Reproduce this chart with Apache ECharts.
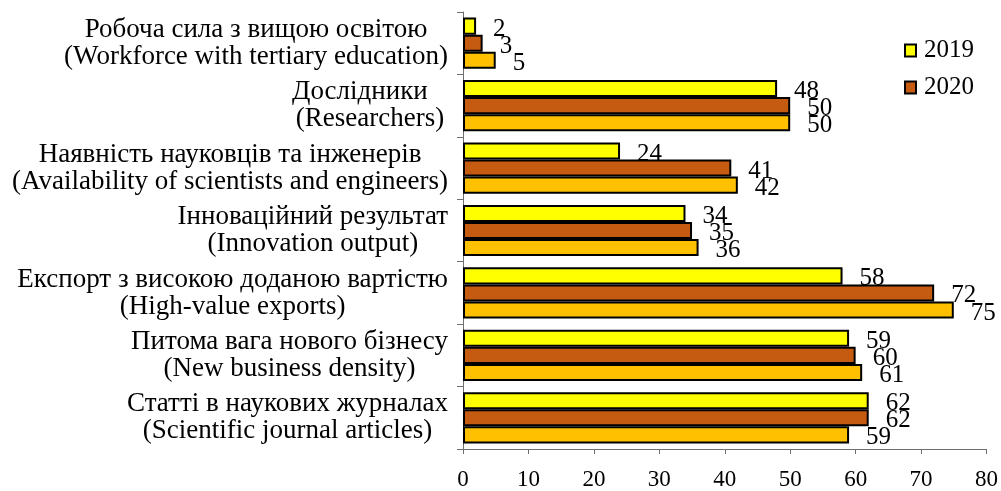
<!DOCTYPE html>
<html>
<head>
<meta charset="utf-8">
<script src="https://cdn.jsdelivr.net/npm/echarts@6/dist/echarts.min.js"></script>
<style>
  html, body { margin: 0; padding: 0; background: #fff; }
  #chart { width: 1001px; height: 491px; }
</style>
</head>
<body>
<div id="chart"></div>
<script>
// a line ending in nbsp is right aligned, the rest are centred
const categories = [
  'Робоча сила з вищою освітою\n(Workforce with tertiary education)',
  'Дослідники\u00a0\u00a0\u00a0\n(Researchers)',
  'Наявність науковців та інженерів\n(Availability of scientists and engineers)',
  'Інноваційний результат\n(Innovation output)',
  'Експорт з високою доданою вартістю\n(High-value exports)',
  'Питома вага нового бізнесу\n(New business density)',
  'Статті в наукових журналах\n(Scientific journal articles)'
]
const values2019 = [2, 48, 24, 34, 58, 59, 62]
const values2020 = [3, 50, 41, 35, 72, 60, 62]
const valuesThird = [5, 50, 42, 36, 75, 61, 59]
const xTicks = { min: 0, max: 80, interval: 10 }

const font = "'Liberation Serif', 'Times New Roman', serif"
const axisColor = '#6f6f6f'

const makeSeries = (name, data, color) => ({
  name,
  type: 'bar',
  data,
  barGap: '0%',
  barCategoryGap: '18%',
  itemStyle: { color, borderColor: '#000', borderWidth: 2 },
  label: {
    show: true,
    position: 'right',
    distance: 17,
    offset: [0, 3],
    color: '#000',
    fontFamily: font,
    fontSize: 25
  }
})

const catLabel = v => v.split('\n')
  .map(s => (s.endsWith('\u00a0') ? '{r|' : '{c|') + s + '}')
  .join('\n')

const chart = echarts.init(document.getElementById('chart'))
chart.setOption({
  animation: false,
  textStyle: { fontFamily: font },
  grid: { left: 463, right: 13, top: 12, bottom: 39 },
  legend: {
    data: ['2019', '2020'],
    orient: 'vertical',
    left: 899,
    top: 33,
    itemWidth: 11,
    itemHeight: 12,
    itemGap: 12,
    icon: 'rect',
    textStyle: { fontFamily: font, fontSize: 25, color: '#000', lineHeight: 25, padding: [0, 0, 0, 3] }
  },
  xAxis: {
    type: 'value',
    min: xTicks.min,
    max: xTicks.max,
    interval: xTicks.interval,
    splitLine: { show: false },
    axisLine: { show: true, lineStyle: { color: axisColor, width: 1 } },
    axisTick: { show: true, length: 5, lineStyle: { color: axisColor } },
    axisLabel: { color: '#000', fontFamily: font, fontSize: 23, margin: 19 }
  },
  yAxis: {
    type: 'category',
    inverse: true,
    data: categories,
    axisLine: { show: true, lineStyle: { color: axisColor, width: 1 } },
    axisTick: { show: true, length: 6, lineStyle: { color: axisColor } },
    axisLabel: {
      margin: 15,
      formatter: catLabel,
      rich: {
        c: { align: 'center', fontFamily: font, fontSize: 27, lineHeight: 27, color: '#000' },
        r: { align: 'right', fontFamily: font, fontSize: 27, lineHeight: 27, color: '#000' }
      }
    }
  },
  series: [
    makeSeries('2019', values2019, '#FFFF00'),
    makeSeries('2020', values2020, '#C55A11'),
    makeSeries('third', valuesThird, '#FFC000')
  ]
})
</script>
</body>
</html>
